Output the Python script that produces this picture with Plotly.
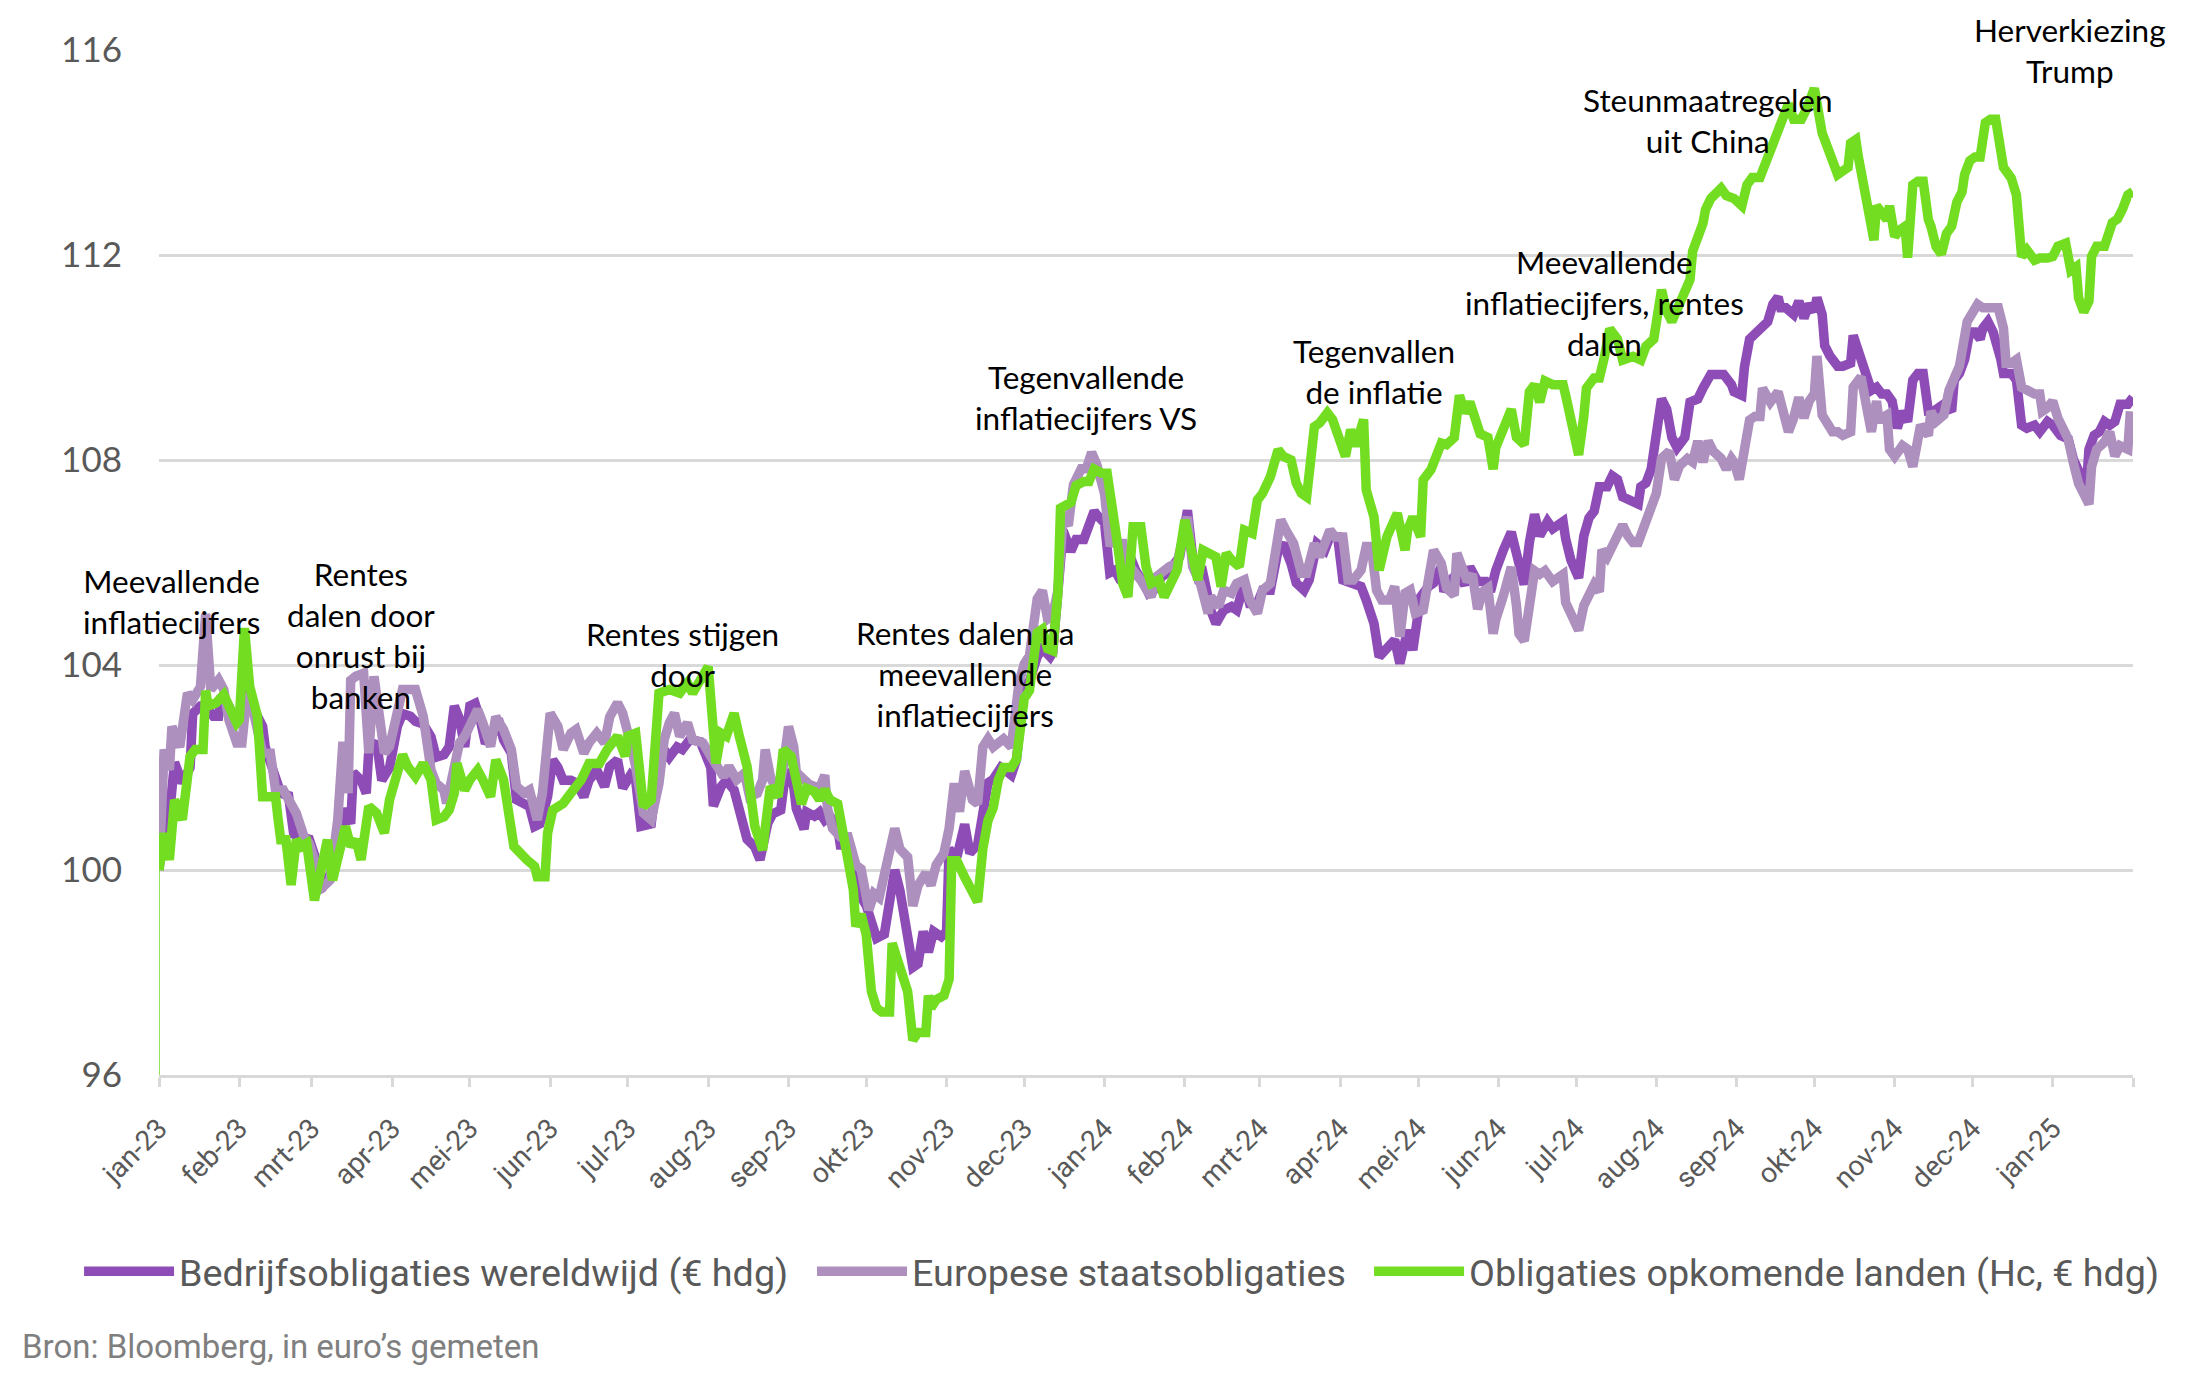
import pandas as pd
import plotly.graph_objects as go

# ---------------- data (days since 2023-01-01, index level) ----------------
start_date = "2023-01-01"
end_date = "2025-02-01"

corp_days = [0,3,4,6,9,12,13,16,18,21,23,24,27,30,33,35,38,40,41,44,47,50,52,54,58,60,61,63,67,69,71,72,74,75,78,80,81,84,86,89,92,94,97,99,102,105,107,110,112,114,116,118,120,
             122,124,126,129,131,133,136,138,141,143,145,147,150,152,154,156,159,161,164,166,169,172,174,177,179,182,184,186,190,192,195,197,200,202,205,209,213,214,217,219,222,224,227,230,232,235,237,240,242,245,
             246,249,250,253,255,257,259,262,263,265,268,271,273,276,277,280,282,284,286,288,291,293,295,297,299,302,304,305,308,311,313,316,318,320,322,325,327,329,331,334,336,339,341,344,345,347,349,352,354,357,359,361,362,365,367,
             369,371,373,375,377,380,382,384,387,389,392,394,397,399,401,403,406,408,411,414,416,419,421,424,426,429,432,434,437,439,442,444,447,450,452,455,457,460,464,466,469,471,474,477,479,482,484,487,490,492,495,
             496,498,501,504,506,509,512,514,516,519,522,524,527,529,531,533,536,538,542,543,545,548,550,552,554,556,559,561,563,565,568,571,572,574,576,578,580,582,584,586,589,591,594,596,599,601,604,607,608,611,612,614,617,619,621,623,625,
             626,628,631,633,635,637,639,640,642,643,645,648,650,653,654,656,658,661,663,665,667,669,671,673,675,677,679,681,683,685,687,689,692,693,695,697,699,701,703,704,706,708,711,712,715,717,719,721,724,726,729,731,734,737,739,742,744,745,747,749,751,753,755,757,760,762]
corp_vals = [100.0,101.5,101.05,102.1,101.7,102.0,103.05,103.2,103.2,103.0,103.0,103.4,103.2,102.8,103.5,103.4,103.0,102.8,102.4,101.9,101.5,101.45,100.7,100.65,100.6,100.3,99.6,99.65,100.0,100.5,100.9,101.2,100.9,101.9,101.75,101.5,102.35,102.5,101.75,102.0,102.8,103.05,103.0,102.9,102.85,102.6,102.2,102.25,102.4,103.2,102.95,102.4,103.2,
             103.25,102.93,102.47,102.67,102.95,102.54,102.28,101.37,101.3,101.24,100.85,100.9,101.43,102.15,102.0,101.75,101.75,101.7,101.43,101.75,101.95,101.63,102.02,102.15,101.6,101.85,101.75,100.85,100.9,101.75,102.35,102.2,102.4,102.35,102.55,102.5,102.0,101.25,101.63,101.75,101.56,101.15,100.6,100.45,100.2,100.91,101.1,101.17,101.95,101.63,
             101.2,100.8,101.13,101.05,101.13,100.97,101.05,100.81,100.49,100.49,100.1,99.47,99.31,98.83,98.67,98.75,99.55,100.0,99.6,98.98,98.1,98.17,98.8,98.4,98.8,98.7,98.8,100.4,100.25,100.89,100.33,100.49,101.05,101.7,101.77,102.0,101.93,101.85,102.15,103.6,103.68,104.16,104.32,104.16,104.24,105.6,106.62,106.22,106.45,106.45,106.69,107.0,106.93,106.77,105.8,
             105.85,105.66,105.6,106.1,105.85,105.6,105.4,105.46,105.72,105.79,105.98,106.11,107.02,106.11,105.72,105.79,105.07,104.81,105.07,105.14,105.07,105.6,105.2,105.2,105.46,105.46,106.24,106.37,105.98,105.6,105.46,105.66,106.37,106.24,106.5,106.5,105.66,105.6,105.53,105.27,104.81,104.16,104.36,104.49,104.03,104.68,104.29,105.33,105.53,105.6,105.92,
             105.43,105.63,105.77,105.57,105.91,105.63,105.63,105.43,105.84,106.25,106.59,106.18,105.57,106.39,106.94,106.52,106.8,106.66,106.8,106.46,106.05,105.7,106.52,106.87,107.0,107.48,107.48,107.69,107.62,107.28,107.21,107.14,107.48,107.55,107.82,108.71,109.19,108.99,108.44,108.24,108.44,109.13,109.19,109.4,109.67,109.67,109.67,109.47,109.33,109.26,109.81,110.36,110.49,110.56,110.7,111.04,111.18,
             110.97,110.97,110.84,111.1,110.77,111.04,110.9,111.17,110.84,110.23,110.03,109.83,109.83,109.89,110.43,110.16,109.76,109.36,109.42,109.29,109.29,109.15,108.62,108.95,108.75,109.56,109.69,109.69,108.95,108.95,109.02,109.09,108.95,109.56,109.69,109.96,110.5,110.5,110.36,110.57,110.7,110.5,109.96,109.69,109.69,109.56,108.68,108.62,108.68,108.55,108.75,108.68,108.48,108.41,108.01,107.74,107.47,108.21,108.48,108.55,108.75,108.68,108.75,109.09,109.09,109.22]

eur_days = [0,2,4,5,8,11,13,16,18,20,23,25,27,30,32,34,36,39,40,43,45,48,51,53,56,58,60,62,66,69,71,73,74,76,79,81,83,85,87,89,92,94,97,99,102,105,107,110,111,114,116,118,120,
            123,125,128,130,133,136,138,141,143,146,148,151,154,156,159,161,164,166,169,172,174,177,179,182,184,187,190,193,195,197,199,201,204,206,210,213,215,218,220,223,226,228,231,233,234,236,239,241,243,245,
            246,249,251,255,257,258,260,263,266,269,271,274,276,278,281,284,286,289,291,293,296,298,300,303,305,307,309,311,314,316,318,320,322,324,326,329,330,332,334,336,339,341,343,345,347,349,351,353,356,358,360,362,365,367,
            370,372,374,376,379,381,383,385,388,390,393,395,397,399,402,405,406,409,411,414,416,419,421,424,426,429,431,433,435,438,441,443,446,448,452,454,457,459,461,464,466,468,470,472,475,477,479,481,483,485,488,490,492,495,
            497,500,501,503,505,507,509,511,513,515,516,519,522,524,525,527,529,531,533,535,538,542,543,546,548,550,551,554,556,557,559,562,565,567,569,571,573,576,578,580,581,583,585,587,590,592,594,596,598,600,603,605,607,608,610,612,614,616,618,619,622,625,627,
            629,631,633,635,637,639,640,642,644,646,648,650,653,654,657,659,661,663,664,665,667,668,670,673,675,677,680,683,684,686,689,691,693,695,698,700,702,704,707,710,712,713,715,717,719,721,724,726,727,729,731,733,735,737,739,741,743,745,746,748,751,753,755,757,760,761]
eur_vals = [100.0,102.35,101.95,102.8,102.4,103.45,103.32,103.58,105.0,103.52,103.71,103.52,102.93,102.48,102.48,103.45,103.19,102.61,102.28,102.28,101.56,101.56,101.24,101.11,100.65,100.52,100.2,99.61,99.8,100.98,102.5,101.5,103.7,103.78,103.84,102.28,103.78,103.13,102.28,102.41,103.0,103.52,103.52,103.52,103.0,101.95,101.69,101.56,101.3,102.15,102.48,102.61,102.8,
            103.13,102.87,102.41,102.99,102.74,102.35,101.63,101.5,101.56,100.98,101.5,103.06,102.8,102.35,102.67,102.74,102.28,102.48,102.67,102.48,102.99,103.26,103.06,102.48,102.02,101.11,100.98,101.69,102.54,102.87,103.06,102.61,102.87,102.54,102.48,102.22,102.02,101.82,102.02,101.76,101.89,101.43,101.5,101.76,102.35,101.82,101.5,102.02,102.8,102.41,
            101.91,101.75,101.67,101.59,101.85,101.21,100.81,100.65,100.65,100.1,100.02,99.22,99.54,99.46,100.18,100.81,100.41,100.25,99.3,99.7,99.94,99.7,100.1,100.33,100.81,101.69,101.14,101.93,101.37,101.29,102.4,102.56,102.4,102.48,102.56,102.4,102.87,103.66,104.02,104.18,105.29,105.45,104.9,104.98,105.45,106.88,106.72,107.52,107.83,107.83,108.15,107.91,107.34,106.39,
            106.37,106.37,105.6,105.85,105.66,105.46,105.33,105.72,105.85,105.92,105.98,106.5,106.89,105.92,105.59,105.01,105.33,105.14,105.46,105.4,105.59,105.66,105.27,105.01,105.46,105.59,106.24,106.83,106.63,106.37,105.79,105.79,106.37,106.11,106.63,106.5,106.5,105.66,105.66,105.85,106.31,106.31,105.46,105.27,105.27,105.53,104.55,105.4,105.46,105.01,105.07,105.66,106.24,105.98,
            105.5,105.36,106.18,105.91,105.63,105.77,105.09,105.43,105.5,104.61,104.88,105.36,105.91,105.16,104.61,104.47,105.36,105.84,105.77,105.84,105.63,105.77,105.22,104.88,104.68,105.16,105.29,105.57,105.43,106.25,106.11,106.39,106.73,106.52,106.39,106.39,106.66,107.0,107.35,108.03,108.1,108.17,107.62,107.89,108.03,107.96,108.37,107.96,108.37,108.17,108.03,107.82,108.03,107.96,107.62,108.24,108.78,108.85,108.85,109.4,109.13,109.33,108.92,
            108.55,108.82,109.22,108.82,109.15,109.29,110.03,108.88,108.68,108.55,108.55,108.48,108.55,109.42,109.62,109.09,108.55,109.15,108.75,108.82,108.88,108.21,108.07,108.28,108.21,107.87,108.68,108.48,108.95,108.75,108.88,109.36,109.62,109.83,110.7,110.9,111.04,110.97,110.97,110.97,110.57,109.89,109.89,109.96,109.42,109.36,109.29,109.29,108.95,109.02,109.15,108.82,108.55,108.41,107.94,107.54,107.34,107.14,107.87,108.21,108.35,108.55,108.08,108.28,108.21,108.95]

em_days = [0,2,4,6,9,10,12,14,17,18,19,22,25,27,30,31,33,35,38,40,45,46,47,49,51,53,55,57,60,62,65,67,70,72,74,76,78,81,84,87,89,92,94,96,99,102,105,107,110,112,114,115,118,120,
           123,125,128,130,133,137,139,142,145,146,149,150,152,156,159,163,166,170,173,177,180,181,184,187,190,193,197,201,204,206,209,212,215,217,219,222,224,227,230,232,233,236,239,241,244,
           248,250,253,255,257,259,262,264,266,268,269,271,273,275,277,279,282,283,285,287,289,291,293,296,297,298,300,303,305,306,308,311,313,316,318,320,322,324,326,329,331,332,334,336,339,341,343,345,347,348,350,352,354,357,359,361,364,366,
           370,372,374,376,379,381,383,386,388,390,393,396,399,401,403,406,408,410,412,414,417,419,422,424,426,429,432,434,437,439,441,443,446,448,451,453,456,458,460,462,465,466,469,471,474,478,481,482,484,487,488,491,493,495,
           497,500,502,504,506,509,510,513,515,516,519,522,524,525,527,529,531,533,535,538,542,543,546,548,550,551,554,556,558,560,563,565,569,572,574,577,580,582,584,587,589,591,592,594,596,597,599,603,605,608,611,613,615,618,619,621,622,
           626,629,631,634,636,639,642,644,646,648,650,652,653,655,656,658,660,662,663,665,667,668,670,672,674,675,677,679,681,683,684,686,688,690,692,694,696,697,699,701,703,705,707,709,710,712,715,717,719,721,724,726,729,731,733,736,738,740,741,743,745,746,748,751,754,756,758,760,762]
em_vals = [100.0,100.72,100.2,101.37,100.98,101.43,102.22,102.35,102.35,103.5,103.2,103.26,103.42,103.2,102.87,102.93,104.72,103.58,103.0,101.43,101.43,100.98,100.59,100.59,99.71,100.59,100.46,100.52,99.41,99.87,100.59,99.8,100.39,100.85,100.46,100.59,100.2,101.24,101.11,100.72,101.37,101.89,102.25,102.02,101.82,102.08,101.76,100.98,101.04,101.17,101.5,102.08,101.56,101.76,
           101.95,101.76,101.43,102.15,101.76,100.46,100.33,100.2,100.07,99.87,99.87,100.72,101.17,101.3,101.5,101.76,102.08,102.08,102.35,102.61,102.22,102.61,102.67,101.24,101.37,103.45,103.52,103.45,103.65,103.45,103.71,103.97,102.08,102.67,102.61,103.06,102.61,102.02,100.85,100.46,100.39,101.63,101.43,102.35,102.22,
           101.29,101.59,101.53,101.37,101.57,101.37,101.29,100.57,100.18,99.62,98.9,99.14,98.74,97.63,97.31,97.23,97.23,98.57,98.25,98.01,97.63,96.68,96.83,96.83,97.55,97.31,97.47,97.55,97.87,100.18,100.18,99.86,99.7,99.38,100.41,100.97,101.21,101.76,102.0,102.0,102.16,102.71,103.35,103.5,104.63,104.7,104.32,104.28,105.41,107.06,107.1,107.17,107.5,107.58,107.58,107.82,107.74,107.74,
           106.37,105.59,105.33,106.7,106.7,105.92,105.59,105.66,105.33,105.53,105.85,106.83,105.98,105.66,106.24,106.18,106.11,105.53,106.18,106.05,105.92,106.63,106.57,107.22,107.35,107.67,108.2,108.07,108.0,107.55,107.35,107.28,108.65,108.72,108.92,108.79,108.4,108.07,108.59,108.27,108.79,107.42,106.89,105.85,106.5,106.96,106.24,106.63,106.89,106.5,107.61,107.81,108.07,108.33,
           108.3,108.44,109.26,108.92,109.13,108.58,108.51,108.44,107.82,108.24,108.65,108.99,108.44,108.37,108.3,109.33,109.47,109.13,109.54,109.47,109.47,109.26,108.65,108.1,108.85,109.4,109.6,109.6,110.02,110.56,110.36,109.95,110.02,109.95,110.22,110.36,111.32,110.9,110.7,111.04,111.32,111.52,112.07,112.34,112.62,112.89,113.1,113.3,113.16,113.1,112.96,113.37,113.51,113.51,113.64,113.92,114.05,
           114.65,114.95,114.65,114.65,114.85,115.25,114.38,114.11,113.84,113.57,113.64,113.71,114.18,114.25,113.91,113.37,112.69,112.29,112.96,112.83,112.69,112.96,112.36,112.49,112.56,111.95,113.37,113.44,113.44,112.69,112.56,112.16,112.02,112.42,112.56,113.03,113.23,113.57,113.84,113.91,113.91,114.58,114.65,114.65,114.38,113.71,113.5,113.17,111.97,112.1,111.9,111.94,111.94,111.97,112.17,112.23,111.7,111.77,111.16,110.89,111.1,111.97,112.17,112.17,112.63,112.7,112.9,113.17,113.24]

series_names = ["Bedrijfsobligaties wereldwijd (€ hdg)",
                "Europese staatsobligaties",
                "Obligaties opkomende landen (Hc, € hdg)"]

month_labels = ["jan-23", "feb-23", "mrt-23", "apr-23", "mei-23", "jun-23", "jul-23", "aug-23",
                "sep-23", "okt-23", "nov-23", "dec-23", "jan-24", "feb-24", "mrt-24", "apr-24",
                "mei-24", "jun-24", "jul-24", "aug-24", "sep-24", "okt-24", "nov-24", "dec-24",
                "jan-25", ""]

y_ticks = [96, 100, 104, 108, 112, 116]

events = ["Meevallende<br>inflatiecijfers",
          "Rentes<br>dalen door<br>onrust bij<br>banken",
          "Rentes stijgen<br>door",
          "Rentes dalen na<br>meevallende<br>inflatiecijfers",
          "Tegenvallende<br>inflatiecijfers VS",
          "Tegenvallen<br>de inflatie",
          "Meevallende<br>inflatiecijfers, rentes<br>dalen",
          "Steunmaatregelen<br>uit China",
          "Herverkiezing<br>Trump"]
event_dates = ["2023-01-06", "2023-03-20", "2023-07-22", "2023-11-08", "2023-12-25",
               "2024-04-14", "2024-07-12", "2024-08-21", "2025-01-07 12:00"]
event_levels = [105.24, 104.57, 104.2, 103.82, 109.21, 109.72, 111.06, 114.62, 116.0]

source_text = "Bron: Bloomberg, in euro’s gemeten"

# ---------------- figure ----------------
t0 = pd.Timestamp(start_date)


def to_dates(days):
    return t0 + pd.to_timedelta(days, unit="D")


colors = ["#8E4DB6", "#AE90BE", "#73DE21"]
legend_ids = ["legend", "legend2", "legend3"]
legend_x = [-0.0405, 0.3308, 0.613]
tick_dates = pd.date_range(start_date, end_date, freq="MS")

fig = go.Figure()

# thin start connector of the EM series down to the axis
fig.add_trace(go.Scatter(x=[t0, t0], y=[y_ticks[0], em_vals[0]], mode="lines",
                         line=dict(color=colors[2], width=1.5),
                         showlegend=False, hoverinfo="skip"))

for name, d, v, c, lg in zip(series_names, [corp_days, eur_days, em_days],
                             [corp_vals, eur_vals, em_vals], colors, legend_ids):
    fig.add_trace(go.Scatter(x=to_dates(d), y=v, mode="lines", name=name, legend=lg,
                             line=dict(color=c, width=9.5)))

for txt, dt, lv in zip(events, event_dates, event_levels):
    fig.add_annotation(x=dt, y=lv, xref="x", yref="y", text=txt, showarrow=False,
                       align="center", xanchor="center", yanchor="middle",
                       font=dict(family="Lato", size=31.5, color="#000000"))

fig.add_annotation(x=-0.0704, y=-0.265, xref="paper", yref="paper", text=source_text,
                   showarrow=False, xanchor="left", yanchor="middle",
                   font=dict(family="Roboto", size=33, color="#7F7F7F"))

legend_style = dict(orientation="h", y=-0.192, xanchor="left", yanchor="middle",
                    font=dict(family="Roboto", size=37.7, color="#595959"),
                    itemwidth=90, bgcolor="rgba(0,0,0,0)")

fig.update_layout(
    width=2212, height=1385,
    margin=dict(l=159, r=79, t=50, b=310),
    paper_bgcolor="white", plot_bgcolor="white",
    showlegend=True,
    font=dict(family="Roboto"),
)
for lg, lx in zip(legend_ids, legend_x):
    fig.update_layout({lg: dict(x=lx, **legend_style)})

fig.update_xaxes(type="date", range=[start_date, end_date],
                 tickmode="array", tickvals=tick_dates, ticktext=month_labels,
                 tickangle=-45, ticks="outside", ticklen=9, tickwidth=2.5,
                 tickcolor="#D9D9D9", showline=True, linecolor="#D9D9D9", linewidth=2.5,
                 showgrid=False, zeroline=False, ticklabelstandoff=14,
                 tickfont=dict(family="Roboto", size=28, color="#595959"))

fig.update_yaxes(range=[y_ticks[0], y_ticks[-1]], tickmode="array", tickvals=y_ticks,
                 showgrid=True, gridcolor="#D9D9D9", gridwidth=2.5,
                 zeroline=False, showline=False, ticks="", ticklabelstandoff=36,
                 tickfont=dict(family="Lato", size=35, color="#595959"))

fig.write_html("out.html")
